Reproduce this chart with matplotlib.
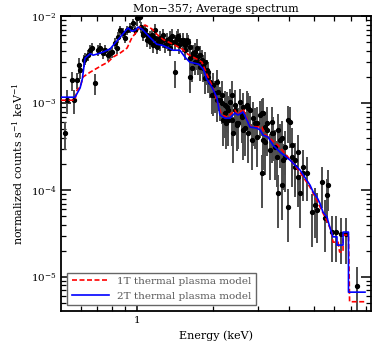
import matplotlib
matplotlib.use('Agg')
import matplotlib.pyplot as plt
import numpy as np
from matplotlib.ticker import LogLocator, NullFormatter, FuncFormatter

# observed spectrum: energy (keV), normalized counts, relative error
energy = [0.521, 0.531, 0.556, 0.566, 0.581, 0.592, 0.598, 0.620, 0.625, 0.642,
          0.655, 0.666, 0.685, 0.704, 0.717, 0.736, 0.750, 0.770, 0.785, 0.799,
          0.821, 0.836, 0.844, 0.859, 0.883, 0.899, 0.916, 0.941, 0.967, 0.985,
          1.003, 1.030, 1.040, 1.059, 1.080, 1.098, 1.128, 1.159, 1.180, 1.202,
          1.210, 1.236, 1.270, 1.290, 1.328, 1.350, 1.378, 1.416, 1.442, 1.470,
          1.482, 1.523, 1.550, 1.579, 1.590, 1.623, 1.630, 1.650, 1.668, 1.700,
          1.729, 1.745, 1.777, 1.810, 1.827, 1.860, 1.890, 1.911, 1.946, 1.980,
          2.000, 2.040, 2.075, 2.094, 2.130, 2.170, 2.190, 2.230, 2.260, 2.293,
          2.334, 2.380, 2.399, 2.443, 2.490, 2.510, 2.555, 2.600, 2.626, 2.670,
          2.725, 2.748, 2.797, 2.850, 2.928, 2.982, 3.070, 3.120, 3.125, 3.150,
          3.200, 3.270, 3.360, 3.420, 3.450, 3.580, 3.610, 3.680, 3.740, 3.780,
          3.850, 3.960, 3.965, 4.100, 4.210, 4.330, 4.410, 4.530, 4.700, 4.920,
          5.050, 5.140, 5.380, 5.530, 5.630, 5.680, 5.890, 6.110, 6.400, 6.700,
          7.400,
          1.062, 1.101, 1.131, 1.150, 1.183, 1.240, 1.273, 1.316, 1.353, 1.381,
          1.419, 1.460, 1.526, 1.553, 1.626, 1.671, 1.703, 1.732, 1.780, 1.830,
          1.863, 1.913,
          2.003, 2.078, 2.173, 2.233, 2.263, 2.296, 2.383, 2.446, 2.493, 2.603,
          2.630, 2.752, 2.880, 2.985, 3.153, 3.203, 3.273, 3.423, 3.520, 3.613,
          3.743, 3.853, 4.030, 4.103, 4.213, 4.333, 4.530]
flux = [4.5e-4, 1.08e-3, 1.84e-3, 1.08e-3, 1.84e-3, 2.73e-3, 2.39e-3, 3.12e-3, 3.29e-3, 3.56e-3,
        4.06e-3, 4.3e-3, 1.70e-3, 4.06e-3, 4.3e-3, 3.76e-3, 4.06e-3, 3.56e-3, 3.76e-3, 3.86e-3,
        4.9e-3, 4.3e-3, 5.7e-3, 6.9e-3, 6.4e-3, 5.6e-3, 6.9e-3, 7.3e-3, 8.3e-3, 6.9e-3,
        9.5e-3, 9.7e-3, 7.5e-3, 6.05e-3, 6.9e-3, 5.3e-3, 5.0e-3, 4.6e-3, 5.6e-3, 4.4e-3,
        5.0e-3, 4.9e-3, 5.3e-3, 4.6e-3, 4.9e-3, 4.3e-3, 5.0e-3, 2.27e-3, 5.6e-3, 4.6e-3,
        5.3e-3, 4.9e-3, 4.06e-3, 5.3e-3, 5.0e-3, 3.29e-3, 1.99e-3, 2.52e-3, 3.76e-3, 2.96e-3,
        3.38e-3, 2.96e-3, 2.59e-3, 3.12e-3, 2.52e-3, 1.94e-3, 2.39e-3, 2.27e-3, 1.74e-3, 1.24e-3,
        1.61e-3, 1.30e-3, 1.74e-3, 1.34e-3, 1.08e-3, 1.0e-3, 6.4e-4, 9.5e-4, 5.9e-4, 8.3e-4,
        1.03e-3, 6.4e-4, 4.5e-4, 8.3e-4, 5.6e-4, 5.9e-4, 1.03e-3, 7.3e-4, 9.0e-4, 5.16e-4,
        9.5e-4, 4.5e-4, 8.3e-4, 3.76e-4, 5.9e-4, 4.06e-4, 7.3e-4, 7.7e-4, 1.57e-4, 3.76e-4,
        5.3e-4, 4.9e-4, 2.88e-4, 6.05e-4, 4.5e-4, 2.39e-4, 9.2e-5, 3.76e-4, 1.14e-4, 2.21e-4,
        3.12e-4, 6.4e-4, 6.4e-5, 2.39e-4, 1.84e-4, 1.41e-4, 9.2e-5, 1.57e-4, 1.57e-4, 5.6e-5,
        6.7e-5, 5.9e-5, 1.24e-4, 4.8e-5, 8.8e-5, 1.14e-4, 3.29e-5, 3.29e-5, 3.12e-5, 3.12e-5,
        7.9e-6,
        6.4e-3, 6.05e-3, 5.7e-3, 6.05e-3, 6.9e-3, 5.6e-3, 6.05e-3, 5.3e-3, 5.6e-3, 5.9e-3,
        5.0e-3, 5.9e-3, 5.3e-3, 4.6e-3, 4.4e-3, 3.56e-3, 3.86e-3, 4.3e-3, 3.56e-3, 2.73e-3,
        2.96e-3, 1.99e-3,
        1.24e-3, 1.08e-3, 1.24e-3, 7.7e-4, 9.0e-4, 6.4e-4, 1.24e-3, 9.5e-4, 5.9e-4, 6.9e-4,
        4.9e-4, 8.8e-4, 6.7e-4, 5.9e-4, 7.7e-4, 3.56e-4, 5.9e-4, 4.5e-4, 3.12e-4, 4.9e-4,
        3.96e-4, 2.39e-4, 6.05e-4, 3.29e-4, 2.21e-4, 2.73e-4, 1.84e-4]
rel_err = [0.35, 0.30, 0.25, 0.30, 0.22, 0.20, 0.20, 0.16, 0.16, 0.15,
           0.15, 0.15, 0.28, 0.15, 0.15, 0.14, 0.14, 0.14, 0.14, 0.14,
           0.14, 0.14, 0.14, 0.13, 0.13, 0.13, 0.13, 0.13, 0.13, 0.13,
           0.13, 0.13, 0.14, 0.15, 0.15, 0.16, 0.16, 0.17, 0.17, 0.17,
           0.17, 0.18, 0.18, 0.18, 0.18, 0.19, 0.19, 0.35, 0.19, 0.20,
           0.20, 0.20, 0.22, 0.20, 0.22, 0.28, 0.35, 0.30, 0.25, 0.28,
           0.28, 0.28, 0.30, 0.30, 0.30, 0.35, 0.32, 0.32, 0.35, 0.40,
           0.38, 0.40, 0.38, 0.40, 0.42, 0.42, 0.50, 0.45, 0.50, 0.45,
           0.42, 0.50, 0.55, 0.45, 0.50, 0.50, 0.42, 0.48, 0.45, 0.52,
           0.45, 0.55, 0.45, 0.55, 0.50, 0.55, 0.45, 0.45, 0.60, 0.55,
           0.50, 0.50, 0.55, 0.48, 0.52, 0.55, 0.60, 0.52, 0.60, 0.55,
           0.52, 0.45, 0.60, 0.55, 0.55, 0.55, 0.60, 0.52, 0.52, 0.60,
           0.58, 0.58, 0.50, 0.60, 0.52, 0.50, 0.55, 0.55, 0.55, 0.55,
           0.65,
           0.16, 0.17, 0.18, 0.18, 0.18, 0.19, 0.19, 0.20, 0.20, 0.20,
           0.21, 0.21, 0.22, 0.22, 0.24, 0.26, 0.26, 0.26, 0.28, 0.30,
           0.30, 0.34,
           0.42, 0.44, 0.44, 0.48, 0.48, 0.50, 0.44, 0.48, 0.52, 0.50,
           0.55, 0.48, 0.52, 0.52, 0.50, 0.58, 0.52, 0.55, 0.58, 0.55,
           0.56, 0.60, 0.50, 0.56, 0.58, 0.58, 0.58]

# 1T thermal plasma model
model_e_1t = [0.503, 0.556, 0.571, 0.581, 0.598, 0.614, 0.637, 0.655, 0.697, 0.730,
              0.770, 0.806, 0.859, 0.916, 0.958, 1.000, 1.030, 1.080, 1.150, 1.200,
              1.270, 1.390, 1.510, 1.590, 1.730, 1.810, 1.890, 1.980, 2.040, 2.130,
              2.170, 2.280, 2.440, 2.500, 2.630, 2.720, 2.800, 3.120, 3.200, 3.600,
              4.000, 4.200, 4.410, 4.830, 5.140, 5.630, 5.890, 5.950, 6.230, 6.320,
              6.520, 6.520, 6.850, 6.920, 7.960]
model_1t = [1.08e-3, 1.08e-3, 1.10e-3, 1.41e-3, 1.53e-3, 2.0e-3, 2.15e-3, 2.27e-3, 2.52e-3, 2.73e-3,
            2.96e-3, 3.38e-3, 3.76e-3, 4.3e-3, 5.7e-3, 6.6e-3, 7.5e-3, 7.9e-3, 7.1e-3, 6.2e-3,
            5.4e-3, 4.76e-3, 4.2e-3, 3.66e-3, 3.2e-3, 2.96e-3, 2.15e-3, 1.61e-3, 1.24e-3, 8.3e-4,
            7.3e-4, 6.9e-4, 8.3e-4, 7.3e-4, 8.6e-4, 6.6e-4, 5.4e-4, 5.3e-4, 4.4e-4, 3.3e-4,
            2.3e-4, 1.94e-4, 1.6e-4, 1.08e-4, 7.6e-5, 4.4e-5, 3.29e-5, 2.52e-5, 2.52e-5, 1.94e-5,
            1.94e-5, 3.04e-5, 3.04e-5, 5.2e-6, 5.2e-6]

# 2T thermal plasma model
model_e_2t = [0.503, 0.571, 0.598, 0.610, 0.625, 0.655, 0.673, 0.697, 0.736, 0.785,
              0.821, 0.859, 0.899, 0.924, 0.958, 0.985, 1.012, 1.049, 1.128, 1.200,
              1.270, 1.390, 1.480, 1.550, 1.620, 1.760, 1.830, 1.890, 1.980, 2.070,
              2.130, 2.230, 2.330, 2.440, 2.510, 2.630, 2.720, 2.800, 2.980, 3.070,
              3.150, 3.300, 3.450, 3.680, 4.030, 4.410, 4.830, 4.970, 5.140, 5.280,
              5.430, 5.630, 5.780, 5.950, 6.170, 6.170, 6.520, 6.520, 6.850, 6.850,
              7.960]
model_2t = [1.17e-3, 1.17e-3, 1.5e-3, 1.9e-3, 3.29e-3, 3.7e-3, 3.56e-3, 3.66e-3, 3.86e-3, 4.2e-3,
            4.9e-3, 5.7e-3, 6.7e-3, 7.3e-3, 6.7e-3, 6.9e-3, 7.5e-3, 7.1e-3, 5.7e-3, 4.76e-3,
            4.6e-3, 4.06e-3, 4.06e-3, 3.38e-3, 2.96e-3, 2.8e-3, 2.46e-3, 1.88e-3, 1.53e-3, 1.17e-3,
            7.3e-4, 6.7e-4, 6.7e-4, 7.7e-4, 7.3e-4, 7.9e-4, 6.4e-4, 5.3e-4, 5.16e-4, 4.9e-4,
            4.3e-4, 4.06e-4, 3.29e-4, 2.73e-4, 2.21e-4, 1.70e-4, 1.14e-4, 9.5e-5, 8.3e-5, 7.1e-5,
            5.6e-5, 4.9e-5, 3.76e-5, 2.9e-5, 2.9e-5, 2.33e-5, 2.33e-5, 3.29e-5, 3.29e-5, 6.7e-6,
            6.7e-6]

plt.rcParams['font.family'] = 'DejaVu Serif'
plt.rcParams['mathtext.fontset'] = 'dejavuserif'

fig = plt.figure(figsize=(3.82, 3.44), dpi=100)
ax = fig.add_axes([0.160, 0.096, 0.811, 0.857])

e = np.array(energy)
f = np.array(flux)
err = f * np.array(rel_err)
lower = np.minimum(err, f * 0.999)
ax.errorbar(e, f, yerr=[lower, err], fmt='o', ms=2.8, color='black',
            ecolor='0.3', elinewidth=1.4, capsize=0, zorder=2)
ax.plot(model_e_1t, model_1t, color='red', lw=1.2, ls=(0, (3, 1.5)), zorder=3,
        label='1T thermal plasma model')
ax.plot(model_e_2t, model_2t, color='blue', lw=1.2, zorder=4,
        label='2T thermal plasma model')

ax.set_xscale('log')
ax.set_yscale('log')
ax.set_xlim(0.503, 8.4)
ax.set_ylim(4.07e-6, 1e-2)

ax.xaxis.set_major_locator(LogLocator(base=10))
ax.xaxis.set_minor_locator(LogLocator(base=10, subs=np.arange(2, 10)))
ax.xaxis.set_major_formatter(FuncFormatter(lambda v, p: '%g' % v))
ax.xaxis.set_minor_formatter(NullFormatter())
ax.yaxis.set_minor_locator(LogLocator(base=10, subs=np.arange(2, 10)))
ax.yaxis.set_minor_formatter(NullFormatter())

ax.tick_params(which='both', direction='in', top=True, right=True, labelsize=7.5)
ax.tick_params(which='major', length=7, width=1.1)
ax.tick_params(which='minor', length=3.5, width=0.9)
for s in ax.spines.values():
    s.set_linewidth(1.3)

ax.set_title('Mon\u2212357; Average spectrum', fontsize=8, pad=3)
ax.set_xlabel('Energy (keV)', fontsize=8)
ax.set_ylabel('normalized counts s$^{-1}$ keV$^{-1}$', fontsize=8)

leg = ax.legend(loc='lower left', fontsize=7.5, handlelength=3.6, fancybox=False,
                edgecolor='0.4', framealpha=1, borderaxespad=0.6)
for t in leg.get_texts():
    t.set_color('0.35')

fig.savefig('out.png', dpi=100)
